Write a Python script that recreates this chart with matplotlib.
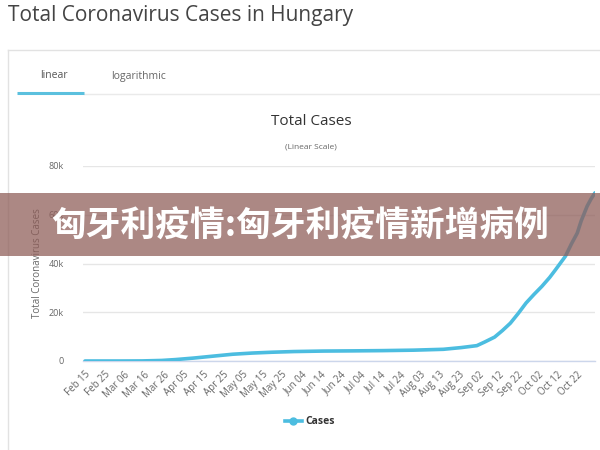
import matplotlib
matplotlib.use("Agg")
import matplotlib.pyplot as plt
from matplotlib.patches import Rectangle
from matplotlib.lines import Line2D
import datetime as dt

# ---- data ----
dates = ["2020-02-15", "2020-03-04", "2020-03-15", "2020-03-25", "2020-04-01",
         "2020-04-10", "2020-04-20", "2020-04-30", "2020-05-10", "2020-05-20",
         "2020-05-31", "2020-06-15", "2020-06-30", "2020-07-15", "2020-07-31",
         "2020-08-15", "2020-08-24", "2020-09-01", "2020-09-05", "2020-09-10",
         "2020-09-14", "2020-09-18", "2020-09-22", "2020-09-26", "2020-09-30",
         "2020-10-04", "2020-10-08", "2020-10-11", "2020-10-16", "2020-10-19",
         "2020-10-22", "2020-10-24", "2020-10-27", "2020-10-29", "2020-10-31"]
cases = [0, 0, 32, 226, 585,
         1190, 1984, 2775, 3263, 3598,
         3876, 4077, 4155, 4260, 4448,
         4800, 5500, 6300, 7800, 9800,
         12500, 15500, 19500, 23800, 27300,
         30600, 34300, 37500, 43000, 48000,
         52500, 57500, 63500, 66500, 69000]
tick_labels = ["Feb 15", "Feb 25", "Mar 06", "Mar 16", "Mar 26", "Apr 05", "Apr 15",
               "Apr 25", "May 05", "May 15", "May 25", "Jun 04", "Jun 14", "Jun 24",
               "Jul 04", "Jul 14", "Jul 24", "Aug 03", "Aug 13", "Aug 23", "Sep 02",
               "Sep 12", "Sep 22", "Oct 02", "Oct 12", "Oct 22"]
y_ticks = [0, 20000, 40000, 60000, 80000]
y_tick_labels = ["0", "20k", "40k", "60k", "80k"]

title = "Total Coronavirus Cases in Hungary"
chart_title = "Total Cases"
chart_subtitle = "(Linear Scale)"
y_label = "Total Coronavirus Cases"
series_name = "Cases"
banner = "匈牙利疫情:匈牙利疫情新增病例"

W, H = 600, 450
fig = plt.figure(figsize=(W / 100, H / 100), dpi=100)
fig.patch.set_facecolor("white")

def fx(px):
    return px / W

def fy(py):
    return 1 - py / H

FONT = ["Open Sans", "DejaVu Sans"]
line_color = "#4cbde0"

# page title
fig.text(fx(8), fy(16), title, fontsize=15, color="#444444", family=FONT,
         ha="left", va="center")

# panel border
fig.add_artist(Line2D([fx(8), fx(600)], [fy(50), fy(50)], color="#e2e2e2", lw=1))
fig.add_artist(Line2D([fx(8), fx(8)], [fy(50), fy(450)], color="#e2e2e2", lw=1))

# tabs
fig.text(fx(54), fy(76), "linear", fontsize=7.5, color="#555555", family=FONT,
         ha="center", va="center")
fig.text(fx(139), fy(76), "logarithmic", fontsize=7.5, color="#666666", family=FONT,
         ha="center", va="center")
fig.add_artist(Line2D([fx(84), fx(600)], [fy(93.5), fy(93.5)], color="#eaeaea", lw=1))
fig.add_artist(Line2D([fx(17), fx(84)], [fy(93), fy(93)], color="#5bc0de", lw=2.2,
                      solid_capstyle="butt"))

# chart titles
fig.text(fx(311), fy(121), chart_title, fontsize=11, color="#333333", family=FONT,
         ha="center", va="center")
fig.text(fx(311), fy(147), chart_subtitle, fontsize=6, color="#666666", family=FONT,
         ha="center", va="center")

# axes
x0, x1, ytop, ybot = 83, 595, 166, 361
ax = fig.add_axes([fx(x0), fy(ybot), (x1 - x0) / W, (ybot - ytop) / H])
dts = [dt.datetime.strptime(d, "%Y-%m-%d") for d in dates]
start = dts[0]
end = dts[-1]
ax.plot(dts, cases, color=line_color, lw=2.6, solid_joinstyle="round",
        solid_capstyle="round", zorder=3)
ax.set_ylim(0, 80000)
ax.set_xlim(start - dt.timedelta(days=1), end)
ax.set_yticks(y_ticks)
ax.set_yticklabels(y_tick_labels)
ax.grid(axis="y", color="#e6e6e6", lw=1)
ax.set_axisbelow(True)
for s in ["top", "right", "left"]:
    ax.spines[s].set_visible(False)
ax.spines["bottom"].set_color("#ccd6eb")
ax.spines["bottom"].set_linewidth(1)

tick_dates = [start + dt.timedelta(days=10 * i) for i in range(len(tick_labels))]
ax.set_xticks(tick_dates)
ax.set_xticklabels(tick_labels, rotation=45, ha="right", rotation_mode="anchor",
                   fontsize=7, color="#666666", family=FONT)
ax.tick_params(axis="x", length=0, pad=6)
ax.tick_params(axis="y", length=0, pad=14, labelsize=6.5, labelcolor="#666666")
for lab in ax.get_yticklabels():
    lab.set_family(FONT)
fig.text(fx(37), fy(263), y_label, rotation=90, fontsize=7, color="#666666",
         family=FONT, ha="center", va="center")

# legend
handle = Line2D([], [], color=line_color, lw=2.6, marker="o", markersize=5,
                markerfacecolor=line_color, markeredgecolor=line_color)
leg = fig.legend([handle], [series_name], loc="center",
                 bbox_to_anchor=(fx(310), fy(422)), frameon=False,
                 handlelength=1.6, handletextpad=0.4,
                 prop={"family": FONT, "size": 7.5, "weight": "bold"})
for t in leg.get_texts():
    t.set_color("#333333")

# banner overlay
fig.add_artist(Rectangle((0, fy(256)), 1, (256 - 193) / H, transform=fig.transFigure,
                         facecolor=(0.56, 0.37, 0.35), alpha=0.74, edgecolor="none",
                         zorder=10))
fig.text(0.5, fy(226), banner, fontsize=25, fontweight="bold", color="white",
         family=["Noto Sans CJK SC", "DejaVu Sans"], ha="center", va="center",
         zorder=11)

fig.savefig("out.png", dpi=100)
